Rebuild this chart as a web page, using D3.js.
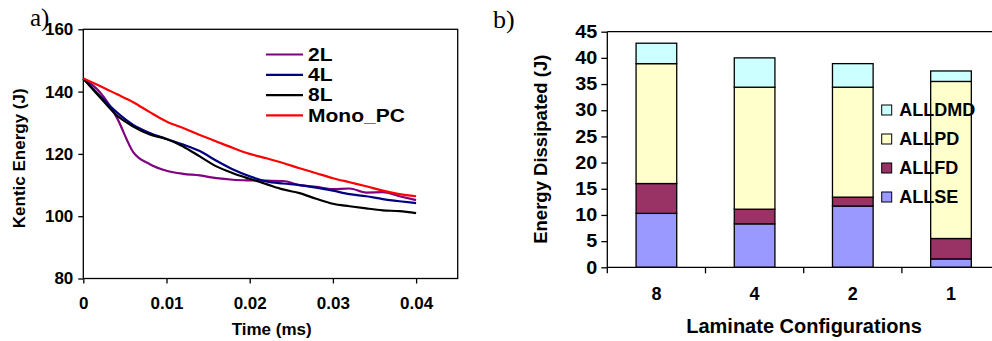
<!DOCTYPE html>
<html>
<head>
<meta charset="utf-8">
<script src="https://cdn.jsdelivr.net/npm/d3@7"></script>
<style>
  body { margin: 0; background: #fff; }
  svg text { font-family: "Liberation Sans", Arial, sans-serif; font-weight: bold; fill: #000; }
  svg text.panel { font-family: "Liberation Serif", "Times New Roman", serif; font-weight: normal; }
</style>
</head>
<body>
<svg id="chart" width="992" height="341"></svg>
<script>
// ---- panel a) kinetic energy vs time ----
const times = [0, 0.002, 0.004, 0.006, 0.008, 0.01, 0.012, 0.014, 0.016, 0.018, 0.02,
  0.022, 0.024, 0.026, 0.028, 0.03, 0.032, 0.034, 0.036, 0.038, 0.04];
const ke2L = [144.2, 139.8, 131.8, 120.6, 116.7, 114.6, 113.6, 113.1, 112.2, 111.7, 111.5,
  111.4, 111.3, 110.0, 109.4, 108.7, 108.9, 107.6, 107.7, 106.4, 105.2];
const ke4L = [144.2, 138.6, 133.4, 129.3, 126.7, 124.8, 123.0, 120.9, 117.8, 115.0, 112.8,
  111.2, 110.5, 110.0, 109.2, 108.2, 107.1, 106.4, 105.5, 104.8, 104.2];
const ke8L = [144.2, 138.2, 132.4, 128.8, 126.2, 124.8, 122.4, 119.2, 116.0, 113.8, 112.0,
  110.3, 108.6, 107.4, 105.6, 104.0, 103.2, 102.5, 101.9, 101.6, 101.0];
const keMono = [144.2, 141.8, 139.2, 136.6, 133.4, 130.4, 128.3, 126.1, 124.0, 121.9, 120.0,
  118.6, 117.1, 115.4, 113.8, 112.2, 110.9, 109.6, 108.2, 107.1, 106.4];
const lineNames = ['2L', '4L', '8L', 'Mono_PC'];
const lineColors = ['#800080', '#000080', '#000000', '#ff0000'];
const keTicks = [80, 100, 120, 140, 160];
const timeTicks = [0, 0.01, 0.02, 0.03, 0.04];

// ---- panel b) energy dissipated, stacked ----
const configs = ['8', '4', '2', '1'];
const allSE = [10.3, 8.3, 11.7, 1.6];
const allFD = [5.7, 2.8, 1.7, 3.9];
const allPD = [22.9, 23.3, 21.0, 30.0];
const allDMD = [3.9, 5.6, 4.5, 2.0];
const stackKeys = ['ALLSE', 'ALLFD', 'ALLPD', 'ALLDMD'];
const stackColors = ['#9999ff', '#993366', '#ffffcc', '#ccffff'];
const energyTicks = [0, 5, 10, 15, 20, 25, 30, 35, 40, 45];

const svg = d3.select('#chart');

// widen glyphs a little, the scanned figure is stretched horizontally
function stretch(sel, k) {
  sel.each(function () {
    const w = this.getComputedTextLength();
    d3.select(this).attr('textLength', w * k).attr('lengthAdjust', 'spacingAndGlyphs');
  });
}

// ================= panel a =================
const A = { left: 83.3, top: 29.3, right: 457.7, bottom: 278.5 };
const xA = d3.scaleLinear().domain([0, 0.045]).range([A.left, A.right]);
const yA = d3.scaleLinear().domain([80, 160]).range([A.bottom, A.top]);

const gA = svg.append('g');

gA.append('rect')
  .attr('x', A.left).attr('y', A.top)
  .attr('width', A.right - A.left).attr('height', A.bottom - A.top)
  .attr('fill', 'none').attr('stroke', '#000').attr('stroke-width', 1.3);

const yAxisA = gA.append('g')
  .attr('transform', `translate(${A.left},0)`)
  .call(d3.axisLeft(yA).tickValues(keTicks).tickSize(5).tickSizeOuter(0).tickPadding(5));
const xAxisA = gA.append('g')
  .attr('transform', `translate(0,${A.bottom})`)
  .call(d3.axisBottom(xA).tickValues(timeTicks).tickSize(5).tickSizeOuter(0).tickPadding(13)
    .tickFormat(d => (d === 0 ? '0' : d3.format('.2f')(d))));
[yAxisA, xAxisA].forEach(ax => {
  ax.select('.domain').remove();
  ax.selectAll('line').attr('stroke', '#000').attr('stroke-width', 1.3);
  ax.selectAll('text').style('font-size', '17px');
});
xAxisA.selectAll('text').attr('dy', '0.71em');

const seriesA = [ke2L, ke4L, ke8L, keMono].map((vals, i) => ({
  name: lineNames[i],
  color: lineColors[i],
  values: vals.map((v, j) => ({ t: times[j], v })),
}));

const line = d3.line()
  .curve(d3.curveMonotoneX)
  .x(d => xA(d.t))
  .y(d => yA(d.v));

gA.selectAll('.series')
  .data(seriesA)
.enter()
  .append('path')
  .attr('class', 'series')
  .attr('fill', 'none')
  .attr('stroke', d => d.color)
  .attr('stroke-width', 2.2)
  .attr('stroke-linejoin', 'round')
  .attr('d', d => line(d.values));

const legA = gA.selectAll('.legA')
  .data(seriesA)
.enter()
  .append('g')
  .attr('class', 'legA')
  .attr('transform', (d, i) => `translate(266,${54.5 + i * 20.3})`);
legA.append('line')
  .attr('x1', 0).attr('x2', 37)
  .attr('stroke', d => d.color).attr('stroke-width', 2.2);
legA.append('text')
  .attr('x', 42).attr('dy', '0.36em')
  .style('font-size', '17.5px')
  .text(d => d.name)
  .call(stretch, 1.2);

gA.append('text')
  .attr('transform', 'translate(25,158.3) rotate(-90)')
  .attr('text-anchor', 'middle')
  .style('font-size', '17px')
  .text('Kentic Energy (J)');
gA.append('text')
  .attr('x', 271.7).attr('y', 335)
  .attr('text-anchor', 'middle')
  .style('font-size', '17px')
  .text('Time (ms)');
gA.append('text')
  .attr('class', 'panel')
  .attr('x', 30).attr('y', 26)
  .style('font-size', '25px')
  .text('a)');

// ================= panel b =================
const B = { left: 607.3, top: 31.7, bottom: 267.3 };
const xB = d3.scaleBand().domain(configs).range([B.left, B.left + 4 * 98.2]).padding(0);
const yB = d3.scaleLinear().domain([0, 45]).range([B.bottom, B.top]);
const barFrac = 0.414;

const gB = svg.append('g');

const rows = configs.map((c, i) => ({
  config: c, ALLSE: allSE[i], ALLFD: allFD[i], ALLPD: allPD[i], ALLDMD: allDMD[i],
}));
const stacked = d3.stack().keys(stackKeys)(rows);

gB.selectAll('.layer')
  .data(stacked)
.enter()
  .append('g')
  .attr('class', 'layer')
  .attr('fill', (d, i) => stackColors[i])
  .selectAll('rect')
  .data(d => d)
.enter()
  .append('rect')
  .attr('x', d => xB(d.data.config) + xB.step() * (1 - barFrac) / 2)
  .attr('width', xB.step() * barFrac)
  .attr('y', d => yB(d[1]))
  .attr('height', d => yB(d[0]) - yB(d[1]))
  .attr('stroke', '#000')
  .attr('stroke-width', 1.3);

// frame lines: left axis, top border, bottom axis
gB.append('line')
  .attr('x1', B.left).attr('x2', 992).attr('y1', B.top).attr('y2', B.top)
  .attr('stroke', '#000').attr('stroke-width', 1.3);
gB.append('line')
  .attr('x1', B.left).attr('x2', 992).attr('y1', B.bottom).attr('y2', B.bottom)
  .attr('stroke', '#000').attr('stroke-width', 1.3);
gB.append('line')
  .attr('x1', B.left).attr('x2', B.left).attr('y1', B.top).attr('y2', B.bottom)
  .attr('stroke', '#000').attr('stroke-width', 1.3);

const yAxisB = gB.append('g')
  .attr('transform', `translate(${B.left},0)`)
  .call(d3.axisLeft(yB).tickValues(energyTicks).tickSize(6).tickSizeOuter(0).tickPadding(4));
yAxisB.select('.domain').remove();
yAxisB.selectAll('line').attr('stroke', '#000').attr('stroke-width', 1.3);
yAxisB.selectAll('text').style('font-size', '18px').call(stretch, 1.1);

// category boundary ticks
gB.selectAll('.catTick')
  .data(configs)
.enter()
  .append('line')
  .attr('class', 'catTick')
  .attr('x1', d => xB(d)).attr('x2', d => xB(d))
  .attr('y1', B.bottom).attr('y2', B.bottom + 6)
  .attr('stroke', '#000').attr('stroke-width', 1.3);

const xAxisB = gB.append('g')
  .attr('transform', `translate(0,${B.bottom})`)
  .call(d3.axisBottom(xB).tickSize(0).tickPadding(20));
xAxisB.select('.domain').remove();
xAxisB.selectAll('text').attr('dy', '0.71em').style('font-size', '18px');

const legendOrder = stackKeys.map((k, i) => ({ key: k, color: stackColors[i] })).reverse();
const legB = gB.selectAll('.legB')
  .data(legendOrder)
.enter()
  .append('g')
  .attr('class', 'legB')
  .attr('transform', (d, i) => `translate(881.7,${110 + i * 29})`);
legB.append('rect')
  .attr('x', 0).attr('y', -5).attr('width', 10).attr('height', 10)
  .attr('fill', d => d.color).attr('stroke', '#000').attr('stroke-width', 1);
legB.append('text')
  .attr('x', 17.6).attr('dy', '0.36em')
  .style('font-size', '18px')
  .text(d => d.key);

gB.append('text')
  .attr('transform', 'translate(546.5,149.2) rotate(-90)')
  .attr('text-anchor', 'middle')
  .style('font-size', '18.5px')
  .text('Energy Dissipated (J)');
gB.append('text')
  .attr('x', 804).attr('y', 333)
  .attr('text-anchor', 'middle')
  .style('font-size', '20px')
  .text('Laminate Configurations');
gB.append('text')
  .attr('class', 'panel')
  .attr('x', 493).attr('y', 28)
  .style('font-size', '26px')
  .text('b)');
</script>
</body>
</html>
